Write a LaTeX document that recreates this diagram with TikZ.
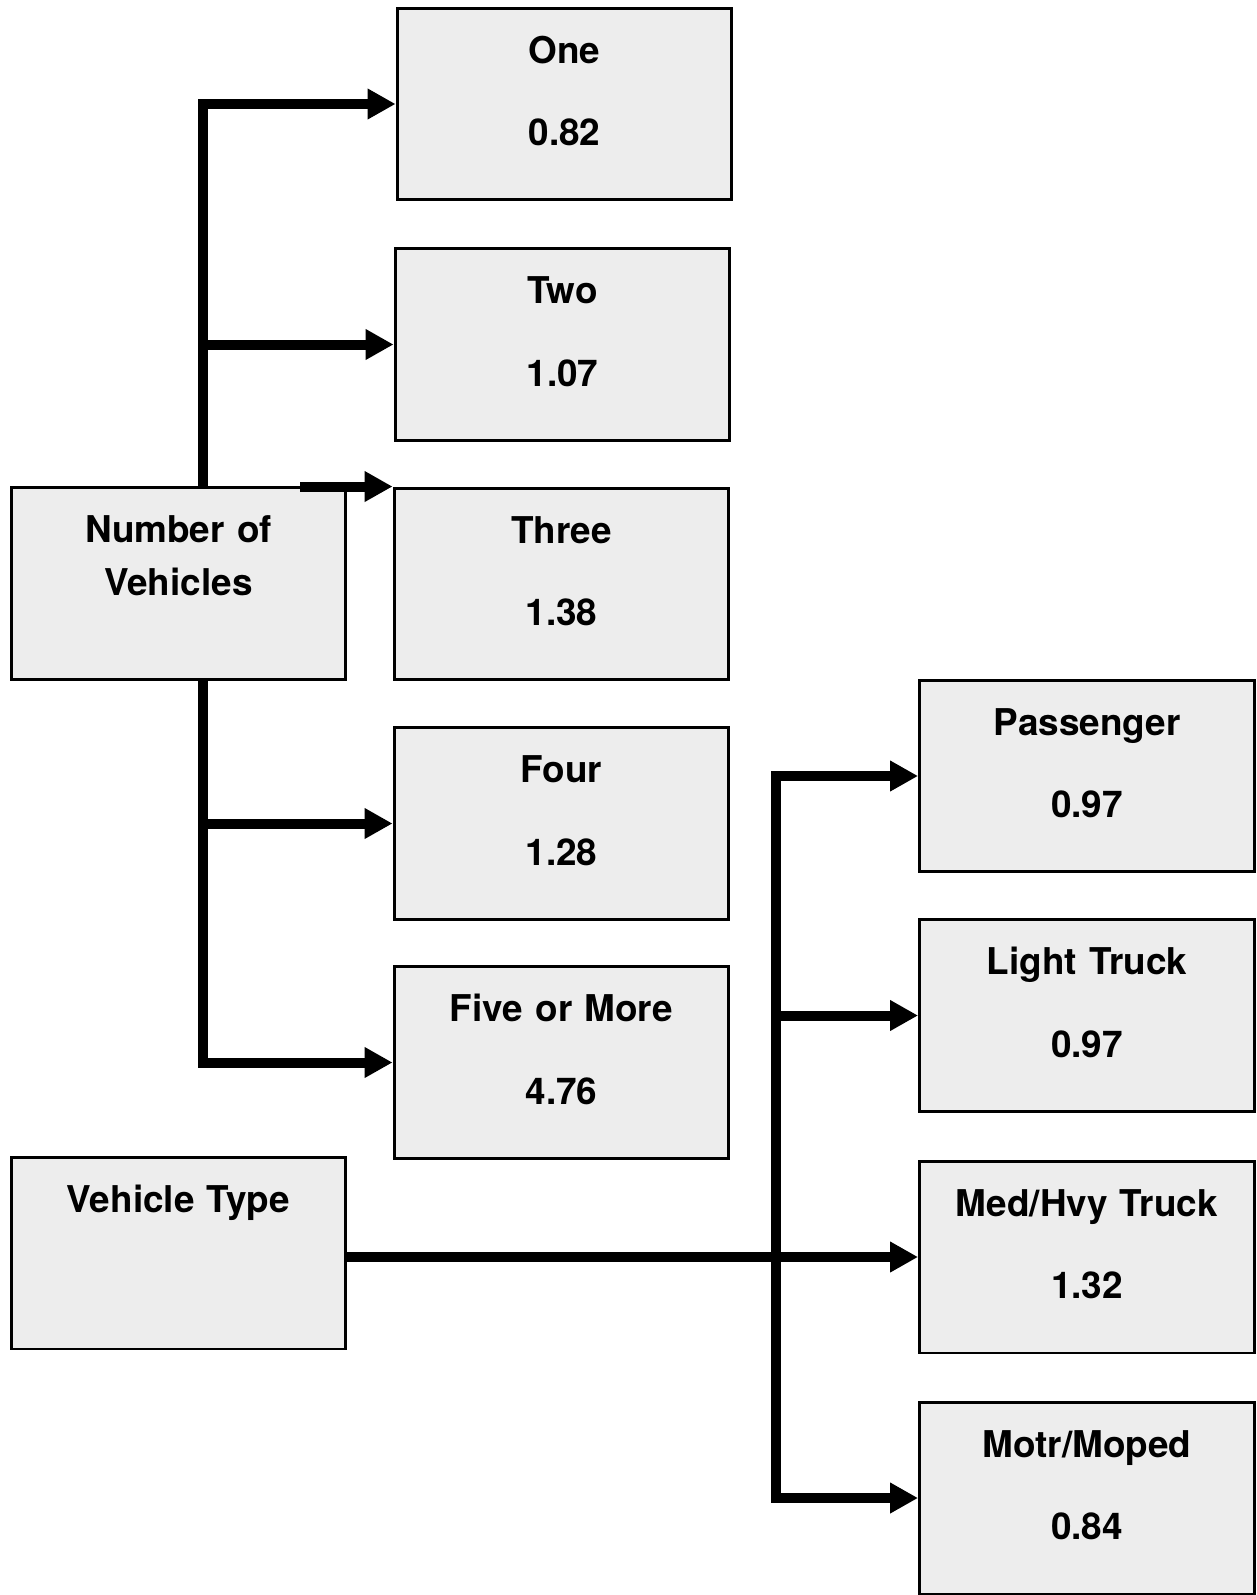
\documentclass[tikz,border=0pt]{standalone}
\usepackage{fontspec}
\setmainfont{TeX Gyre Heros}
\usetikzlibrary{positioning,calc,arrows.meta,backgrounds}

\begin{document}
\begin{tikzpicture}[x=0.02cm, y=-0.02cm,
  box/.style={draw, line width=1.7pt, fill=black!7, minimum width=6.7cm,
              minimum height=3.84cm, inner sep=0pt, text width=6.5cm, align=center,
              text height=0.54cm, text depth=2.18cm,
              font=\fontsize{21}{47.2}\selectfont\bfseries},
  arr/.style={-{Triangle[length=0.56cm, width=0.58cm]}, line width=0.2cm},
  bus/.style={line width=0.2cm, line cap=rect}]
\useasboundingbox (0,0) rectangle (1257,1595);
% left column
\node[box] (nv) at (178.5,583.5) {Number of\\[-17pt]Vehicles};
\node[box] (vt) at (178.5,1253) {Vehicle Type};
% number of vehicles
\node[box] (one)   at (564.5,104)   {One\\0.82};
\node[box] (two)   at (562.5,344.5) {Two\\1.07};
\node[box] (three) at (561.5,584)   {Three\\1.38};
\node[box] (four)  at (561.5,823.5) {Four\\1.28};
\node[box] (five)  at (561.5,1062.5) {Five or More\\4.76};
% vehicle type
\node[box] (pas) at (1087,776)    {Passenger\\0.97};
\node[box] (lt)  at (1087,1015.5) {Light Truck\\0.97};
\node[box] (med) at (1087,1257)   {Med/Hvy Truck\\1.32};
\node[box] (mot) at (1087,1498)   {Motr/Moped\\0.84};
\coordinate (lbus) at (203,0);
\coordinate (rbus) at (776,0);
\coordinate (tb) at (300,0);
\begin{scope}[on background layer]
\draw[bus] (lbus |- one.west) -- (lbus |- five.west);
\draw[bus] (rbus |- pas.west) -- (rbus |- mot.west);
\end{scope}
\draw[arr] (lbus |- one.west) -- (one.west);
\draw[arr] (lbus |- two.west) -- (two.west);
\draw[arr] (tb |- three.north west) -- (three.north west);
\draw[arr] (lbus |- four.west) -- (four.west);
\draw[arr] (lbus |- five.west) -- (five.west);
\draw[arr] (rbus |- pas.west) -- (pas.west);
\draw[arr] (rbus |- lt.west) -- (lt.west);
\draw[arr] (vt.east |- med.west) -- (med.west);
\draw[arr] (rbus |- mot.west) -- (mot.west);
\end{tikzpicture}
\end{document}
